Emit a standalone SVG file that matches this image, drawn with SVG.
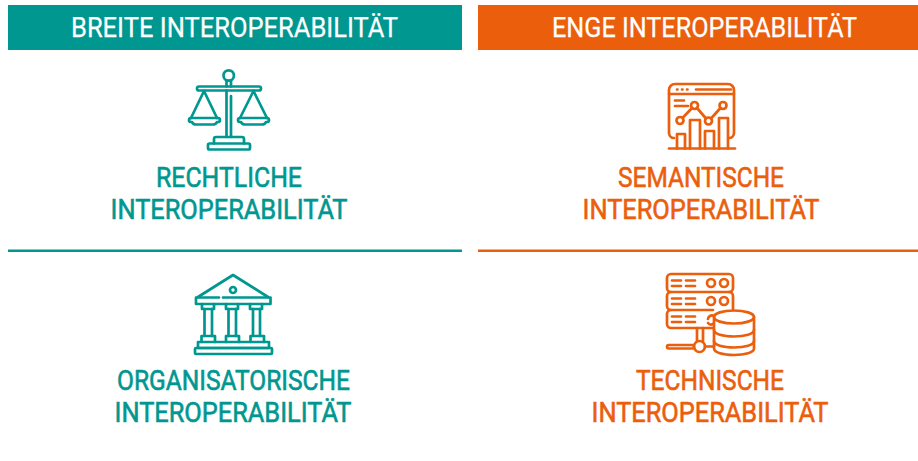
<svg xmlns="http://www.w3.org/2000/svg" width="918" height="461" viewBox="0 0 918 461">
<style>
text{font-family:"Roboto","Liberation Sans",sans-serif;text-anchor:middle}
.h{font-size:27px;font-weight:400;fill:#fff;stroke:#fff;stroke-width:.25}
.l{font-size:28px;font-weight:400;stroke-width:.6}
.t{fill:#009790;stroke:#009790}.o{fill:#EB5E0C;stroke:#EB5E0C}
.i{fill:none;stroke-width:2.7;stroke-linecap:round;stroke-linejoin:round}
.it{stroke:#009790}.io{stroke:#EB5E0C}
</style>
<rect width="918" height="461" fill="#fff"/>
<g id="header-breit"><rect x="8" y="5" width="454" height="45" fill="#009790"/><text class="h" x="234.500" y="37" textLength="327" lengthAdjust="spacingAndGlyphs">BREITE INTEROPERABILITÄT</text></g>
<g id="header-eng"><rect x="478" y="5" width="440" height="45" fill="#EB5E0C"/><text class="h" x="704.500" y="37" textLength="305" lengthAdjust="spacingAndGlyphs">ENGE INTEROPERABILITÄT</text></g>
<g id="rechtlich">
<g class="i it">
<circle cx="228.700" cy="75.500" r="5.200"/>
<rect x="197" y="86.500" width="64" height="4" rx="2"/>
<path d="M226.500 81V86.500M231 81V86.500M226.500 90.500V137M231 96V137"/>
<path d="M204 91L191 118M204 91L217 118M253.500 91L240 118M253.500 91L267 118"/>
<path d="M191 118H218a2 2 0 0 1 0 4h-1q-1 2.500-4 2.500H196q-3 0-4-2.500h-1a2 2 0 0 1 0-4Z"/>
<path d="M240 118H267a2 2 0 0 1 0 4h-1q-1 2.500-4 2.500H245q-3 0-4-2.500h-1a2 2 0 0 1 0-4Z"/>
<path d="M214 143.500V139a2 2 0 0 1 2-2H242a2 2 0 0 1 2 2V143.500"/>
<rect x="208" y="143.500" width="42" height="6" rx="1.500"/>
</g>
<text class="l t" x="229" y="187" textLength="146" lengthAdjust="spacingAndGlyphs">RECHTLICHE</text>
<text class="l t" x="229" y="218.500" textLength="237" lengthAdjust="spacingAndGlyphs">INTEROPERABILITÄT</text>
</g>
<g id="semantisch">
<g class="i io">
<path d="M674 138a5 5 0 0 1-5-5V90a6 6 0 0 1 6-6H728a6 6 0 0 1 6 6V133a5 5 0 0 1-5 5"/>
<path d="M669 94H734M696 89.500H731M677 89.500h.5M682 89.500h.5M687 89.500h.5M675 100.500H684M675 106H688"/>
<path d="M669 148.500H735"/>
<path d="M677 148.500V134H685V148.500M690 148.500V120H700V148.500M705 148.500V131H714V148.500M719 148.500V118H728V148.500"/>
<circle cx="680" cy="120.500" r="3.500"/><circle cx="694.500" cy="105.500" r="3.500"/><circle cx="708.500" cy="121" r="3.500"/><circle cx="723" cy="105.500" r="3.500"/>
<path d="M682.500 118L692 108M697 108L706 118.500M711 118.500L720.500 108"/>
</g>
<text class="l o" x="701" y="187" textLength="166" lengthAdjust="spacingAndGlyphs">SEMANTISCHE</text>
<text class="l o" x="701" y="218.500" textLength="237" lengthAdjust="spacingAndGlyphs">INTEROPERABILITÄT</text>
</g>
<rect id="divider-teal" x="8" y="249.500" width="454" height="2.500" fill="#009790"/>
<rect id="divider-orange" x="478" y="249.500" width="440" height="2.500" fill="#EB5E0C"/>
<g id="organisatorisch">
<g class="i it">
<path d="M198 297L233 275L268 297"/>
<circle cx="233" cy="290" r="3"/>
<path d="M219 297.500H196V304H270.500V297.500H223"/>
<path d="M202 304V309H214V304M226 304V309H238V304M250 304V309H262V304"/>
<path d="M204.500 309V336M212 309V336M228.500 309V336M236 309V336M253 309V336M260 309V336"/>
<path d="M201.500 342V336H215V342M226 342V336H239V342M250.500 342V336H264V342"/>
<rect x="198" y="342" width="71" height="6"/>
<rect x="195" y="348" width="77" height="6" rx="1"/>
</g>
<text class="l t" x="233.500" y="390" textLength="233" lengthAdjust="spacingAndGlyphs">ORGANISATORISCHE</text>
<text class="l t" x="233" y="421.500" textLength="237" lengthAdjust="spacingAndGlyphs">INTEROPERABILITÄT</text>
</g>
<g id="technisch">
<g class="i io">
<path d="M671 292a4 4 0 0 1-4-4V278a4 4 0 0 1 4-4H729a4 4 0 0 1 4 4V288a4 4 0 0 1-4 4Z"/>
<path d="M671 292a4 4 0 0 0-4 4V306a4 4 0 0 0 4 4H713M729 292a4 4 0 0 1 4 4V309"/>
<path d="M713 328H671a4 4 0 0 1-4-4V314a4 4 0 0 1 4-4"/>
<path d="M672 280.500H681M686 280.500H695M672 286H681M686 286H695M672 298.500H681M686 298.500H695M672 304H681M686 304H695M672 316.500H681M686 316.500H695M672 322H681M686 322H695"/>
<circle cx="711" cy="283" r="4"/><circle cx="724" cy="283" r="4"/><circle cx="711" cy="301" r="4"/><circle cx="724" cy="301" r="4"/>
<path d="M708 319a4 4 0 0 1 5-3.500M708 323a4 4 0 0 0 5 1"/>
<ellipse cx="734" cy="317" rx="20" ry="6.500"/>
<path d="M714 317V348.500c0 4 9 6.500 20 6.500s20-2.500 20-6.500V317"/>
<path d="M714 330c0 4 9 6.500 20 6.500s20-2.500 20-6.500M714 341c0 4 9 6.500 20 6.500s20-2.500 20-6.500"/>
<path d="M697 328V341M703 328V341"/>
<circle cx="699.500" cy="346.500" r="5.500"/>
<rect x="667" y="345" width="27" height="3.500" rx="1.700"/>
<path d="M705 346.500H714"/>
</g>
<text class="l o" x="710" y="390" textLength="148" lengthAdjust="spacingAndGlyphs">TECHNISCHE</text>
<text class="l o" x="710" y="421.500" textLength="237" lengthAdjust="spacingAndGlyphs">INTEROPERABILITÄT</text>
</g>
</svg>
